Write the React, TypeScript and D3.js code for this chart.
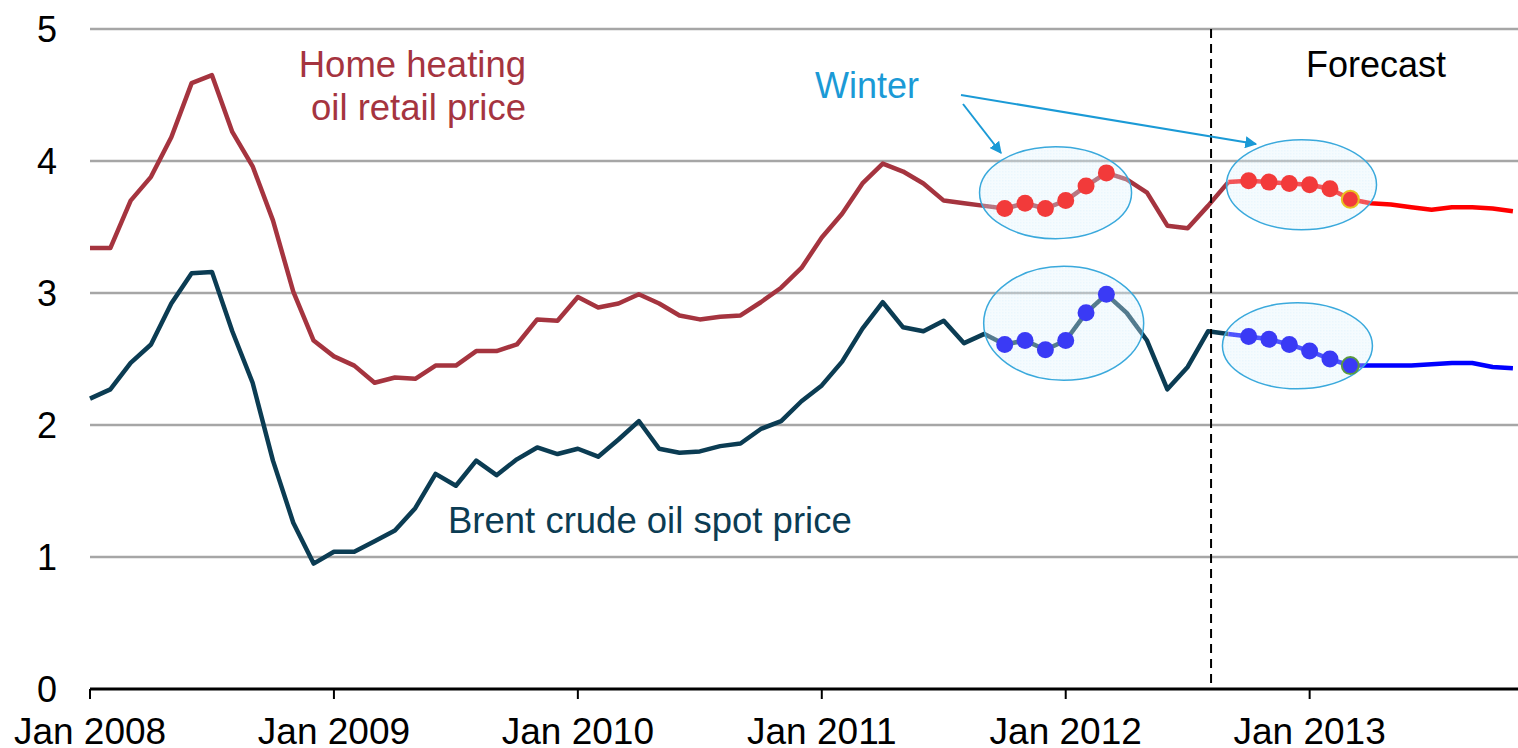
import React from 'react'
import * as d3 from 'd3'

// monthly values, month 0 = Jan 2008
const heatingOil = [
  3.34, 3.34, 3.70, 3.88, 4.18, 4.59, 4.65, 4.22, 3.96, 3.55, 3.01, 2.64,
  2.52, 2.45, 2.32, 2.36, 2.35, 2.45, 2.45, 2.56, 2.56, 2.61, 2.80, 2.79,
  2.97, 2.89, 2.92, 2.99, 2.92, 2.83, 2.80, 2.82, 2.83, 2.93, 3.04, 3.19,
  3.42, 3.60, 3.83, 3.98, 3.92, 3.83, 3.70, 3.68, 3.66, 3.64, 3.68, 3.64,
  3.70, 3.81, 3.91, 3.86, 3.76, 3.51, 3.49, 3.66, 3.84,
]
const brent = [
  2.20, 2.27, 2.47, 2.61, 2.92, 3.15, 3.16, 2.71, 2.32, 1.73, 1.26, 0.95,
  1.04, 1.04, 1.12, 1.20, 1.37, 1.63, 1.54, 1.73, 1.62, 1.74, 1.83, 1.78,
  1.82, 1.76, 1.89, 2.03, 1.82, 1.79, 1.80, 1.84, 1.86, 1.97, 2.03, 2.18,
  2.30, 2.48, 2.73, 2.93, 2.74, 2.71, 2.79, 2.62, 2.69, 2.61, 2.64, 2.57,
  2.64, 2.85, 2.99, 2.85, 2.64, 2.27, 2.44, 2.71, 2.69,
]
// forecast starts at month 56 (Sep 2012)
const forecastStart = 56
const heatingOilForecast = [3.84, 3.85, 3.84, 3.83, 3.82, 3.79, 3.71, 3.68, 3.67, 3.65, 3.63, 3.65, 3.65, 3.64, 3.62]
const brentForecast = [2.69, 2.67, 2.65, 2.61, 2.56, 2.50, 2.45, 2.45, 2.45, 2.45, 2.46, 2.47, 2.47, 2.44, 2.43]

const winterMonths = [[45, 46, 47, 48, 49, 50], [57, 58, 59, 60, 61, 62]]
const yTicks = [0, 1, 2, 3, 4, 5]
const xTicks = [0, 12, 24, 36, 48, 60]
const xTickLabels = ['Jan 2008', 'Jan 2009', 'Jan 2010', 'Jan 2011', 'Jan 2012', 'Jan 2013']
const forecastLine = 55.15

const W = 1518
const H = 748
const margin = {top: 29, right: 0, bottom: 59, left: 90}
const font = '"Liberation Sans", Arial, sans-serif'

const red = '#a5343f'
const navy = '#0b3c53'
const winterBlue = '#1b9ad6'

export default function App() {
  const x = d3.scaleLinear().domain([0, 70.25]).range([margin.left, W - margin.right])
  const y = d3.scaleLinear().domain([0, 5]).range([H - margin.bottom, margin.top])

  const line = d3.line<[number, number]>().x(d => x(d[0])).y(d => y(d[1]))
  const hist = (arr: number[]) => arr.map((v, i) => [i, v] as [number, number])
  const fc = (arr: number[]) => arr.map((v, i) => [forecastStart + i, v] as [number, number])

  const oilAll = [...heatingOil.slice(0, forecastStart), ...heatingOilForecast]
  const brentAll = [...brent.slice(0, forecastStart), ...brentForecast]

  // ellipse highlights: centre in data units, radii in px
  const ellipses = [
    {m: 47.5, v: 3.76, rx: 76, ry: 46},
    {m: 47.9, v: 2.77, rx: 80, ry: 57},
    {m: 59.6, v: 3.82, rx: 75, ry: 45},
    {m: 59.4, v: 2.60, rx: 75, ry: 43},
  ]

  return (
    <svg width={W} height={H} style={{position: 'absolute', left: 0, top: 0}} fontFamily={font}>
      <defs>
        <marker id="arr" viewBox="0 0 10 10" refX="9" refY="5" markerWidth="6" markerHeight="6" orient="auto">
          <path d="M0,0 L10,5 L0,10 z" fill={winterBlue} />
        </marker>
        <pattern id="dots" width="3" height="3" patternUnits="userSpaceOnUse">
          <rect width="3" height="3" fill="#e3f4fd" />
          <rect width="1.5" height="1.5" fill="#c6e8f9" />
        </pattern>
      </defs>
      <rect width={W} height={H} fill="#fff" />

      {/* grid */}
      {yTicks.filter(t => t > 0).map(t => (
        <line key={t} x1={margin.left} x2={W} y1={y(t)} y2={y(t)} stroke="#a6a6a6" strokeWidth={2.5} />
      ))}
      {yTicks.map(t => (
        <text key={t} x={57} y={y(t)} dy="0.35em" textAnchor="end" fontSize={36} fill="#000">{t}</text>
      ))}

      {/* lines */}
      <path d={line(hist(heatingOil)) || ''} fill="none" stroke={red} strokeWidth={4.5} strokeLinejoin="round" />
      <path d={line(hist(brent)) || ''} fill="none" stroke={navy} strokeWidth={4.5} strokeLinejoin="round" />
      <path d={line(fc(heatingOilForecast)) || ''} fill="none" stroke="#ff0000" strokeWidth={4.5} strokeLinejoin="round" />
      <path d={line(fc(brentForecast)) || ''} fill="none" stroke="#0000ff" strokeWidth={4.5} strokeLinejoin="round" />

      {/* highlight ellipses (under the dots) */}
      {ellipses.map((e, i) => (
        <ellipse key={i} cx={x(e.m)} cy={y(e.v)} rx={e.rx} ry={e.ry}
          fill="url(#dots)" fillOpacity={0.35} stroke="#3aa9dc" strokeWidth={1.5} />
      ))}

      {/* winter dots */}
      {winterMonths.map((ms, k) => (
        <g key={k}>
          {ms.map((m, i) => {
            const last = k === 1 && i === ms.length - 1
            return (
              <g key={m}>
                <circle cx={x(m)} cy={y(oilAll[m])} r={8.5} fill="#f23a3a"
                  stroke={last ? '#e8c020' : 'none'} strokeWidth={2} />
                <circle cx={x(m)} cy={y(brentAll[m])} r={8.5} fill="#3a3af5"
                  stroke={last ? '#5a9a40' : 'none'} strokeWidth={2} />
              </g>
            )
          })}
        </g>
      ))}

      {/* forecast divider */}
      <line x1={x(forecastLine)} x2={x(forecastLine)} y1={margin.top} y2={y(0)}
        stroke="#000" strokeWidth={2} strokeDasharray="9,6" />

      {/* x axis */}
      <line x1={margin.left} x2={W} y1={y(0)} y2={y(0)} stroke="#000" strokeWidth={3} />
      {xTicks.map((t, i) => (
        <g key={t} transform={`translate(${x(t)},${y(0)})`}>
          <line y1={0} y2={10} stroke="#000" strokeWidth={2} />
          <text y={55} textAnchor="middle" fontSize={37} fill="#000">{xTickLabels[i]}</text>
        </g>
      ))}

      {/* annotations */}
      <text textAnchor="end" fontSize={36.5} fill={red}>
        <tspan x={526} y={77}>Home heating</tspan>
        <tspan x={526} y={120}>oil retail price</tspan>
      </text>
      <text x={448} y={533} fontSize={36.5} fill={navy}>Brent crude oil spot price</text>
      <text x={1376} y={77} textAnchor="middle" fontSize={36} fill="#000">Forecast</text>
      <text x={867} y={98} textAnchor="middle" fontSize={36} fill={winterBlue}>Winter</text>
      <line x1={963} y1={104} x2={1001} y2={153} stroke={winterBlue} strokeWidth={2} markerEnd="url(#arr)" />
      <line x1={961} y1={95} x2={1256} y2={144} stroke={winterBlue} strokeWidth={2} markerEnd="url(#arr)" />
    </svg>
  )
}
